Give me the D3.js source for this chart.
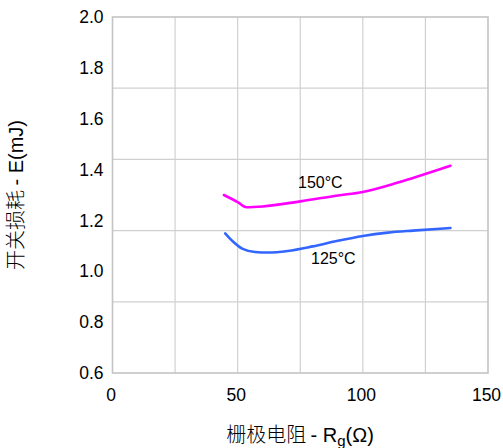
<!DOCTYPE html>
<html>
<head>
<meta charset="utf-8">
<script src="https://cdn.jsdelivr.net/npm/d3@7"></script>
<style>
  html, body { margin: 0; padding: 0; background: #fff; }
  svg { display: block; }
</style>
</head>
<body>
<svg id="chart" width="503" height="448"></svg>
<script>
// Gate resistance (Ω) vs. switching loss (mJ)
const xTicks = [0, 50, 100, 150];
const xGrid = [25, 50, 75, 100, 125];
const yTicks = [2.0, 1.8, 1.6, 1.4, 1.2, 1.0, 0.8, 0.6];
const yGrid = [1.72, 1.44, 1.16, 0.88];

const rg150 = [44.5, 50, 53.5, 60, 75, 90, 100, 110, 120, 128, 135];
const e150  = [1.300, 1.272, 1.252, 1.255, 1.275, 1.298, 1.312, 1.337, 1.367, 1.392, 1.415];

const rg125 = [45, 48, 52, 57, 62, 70, 80, 90, 100, 110, 120, 135];
const e125  = [1.149, 1.118, 1.088, 1.076, 1.074, 1.080, 1.098, 1.120, 1.139, 1.152, 1.160, 1.170];

const series = [
  { name: "150°C", xs: rg150, ys: e150, color: "#ff00ff", label: [298, 188] },
  { name: "125°C", xs: rg125, ys: e125, color: "#3366ff", label: [311, 264] }
];

const svg = d3.select("#chart");
const plotL = 112.5, plotR = 488, plotT = 17, plotB = 373;

const x = d3.scaleLinear().domain([0, 150]).range([plotL, plotR]);
const y = d3.scaleLinear().domain([0.6, 2.0]).range([plotB, plotT]);

const font = "'Liberation Sans', Arial, sans-serif";
const cjk = "'Noto Sans CJK SC', 'Liberation Sans', sans-serif";

// grid
const grid = svg.append("g").attr("stroke", "#d0d0d0").attr("stroke-width", 1.2);
grid.selectAll("line.v").data(xGrid).join("line")
  .attr("x1", d => x(d)).attr("x2", d => x(d))
  .attr("y1", plotT).attr("y2", plotB);
grid.selectAll("line.h").data(yGrid).join("line")
  .attr("x1", plotL).attr("x2", plotR)
  .attr("y1", d => y(d)).attr("y2", d => y(d));

// frame
svg.append("rect")
  .attr("x", plotL).attr("y", plotT)
  .attr("width", plotR - plotL).attr("height", plotB - plotT)
  .attr("fill", "none").attr("stroke", "#c4c4c4").attr("stroke-width", 1.6);

// axes (labels only)
const yAxis = d3.axisLeft(y).tickValues(yTicks).tickFormat(d3.format(".1f")).tickSize(0).tickPadding(9);
const yg = svg.append("g").attr("transform", `translate(${plotL},0)`).call(yAxis);
yg.select(".domain").remove();
yg.selectAll("text").attr("font-family", font).attr("font-size", 17.5).attr("fill", "#000");

const xAxis = d3.axisBottom(x).tickValues(xTicks).tickFormat(d3.format("d")).tickSize(0).tickPadding(16);
const xg = svg.append("g").attr("transform", `translate(-2,${plotB})`).call(xAxis);
xg.select(".domain").remove();
xg.selectAll("text").attr("font-family", font).attr("font-size", 17.5).attr("fill", "#000");

// curves
const line = d3.line().curve(d3.curveMonotoneX);
series.forEach(s => {
  const pts = s.xs.map((v, i) => [x(v), y(s.ys[i])]);
  svg.append("path")
    .attr("d", line(pts))
    .attr("fill", "none")
    .attr("stroke", s.color)
    .attr("stroke-width", 2.6)
    .attr("stroke-linecap", "round");
  svg.append("text")
    .attr("x", s.label[0]).attr("y", s.label[1])
    .attr("font-family", font).attr("font-size", 16)
    .attr("fill", "#000")
    .text(s.name);
});

// axis titles: CJK part in a light CJK face, Latin part in Liberation Sans
const xt = svg.append("text")
  .attr("x", 300).attr("y", 442)
  .attr("text-anchor", "middle")
  .attr("font-size", 20)
  .attr("fill", "#000");
xt.append("tspan").attr("font-family", cjk).attr("font-weight", 300).text("栅极电阻 ");
xt.append("tspan").attr("font-family", font).text("- R");
xt.append("tspan").attr("font-family", font).attr("font-size", 15).attr("dy", 4).text("g");
xt.append("tspan").attr("font-family", font).attr("dy", -4).text("(Ω)");

const yt = svg.append("text")
  .attr("transform", "translate(23,195) rotate(-90)")
  .attr("text-anchor", "middle")
  .attr("font-size", 20)
  .attr("fill", "#000");
yt.append("tspan").attr("font-family", cjk).attr("font-weight", 300).text("开关损耗 ");
yt.append("tspan").attr("font-family", font).text("- E(mJ)");
</script>
</body>
</html>
